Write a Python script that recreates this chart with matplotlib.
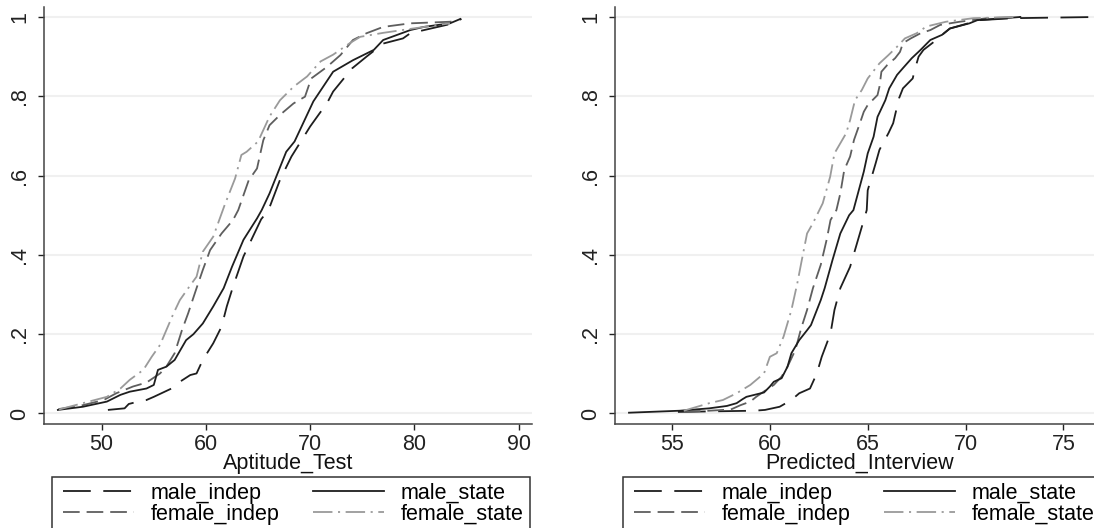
import matplotlib
matplotlib.use("Agg")
import matplotlib.pyplot as plt
from matplotlib.patches import Rectangle

plt.rcParams['font.family'] = ['Liberation Sans', 'DejaVu Sans']
plt.rcParams['lines.scale_dashes'] = False

# read off the reference: empirical CDFs by group
# left panel: Aptitude_Test
apt_male_indep_x = [50.6, 52.2, 52.6, 53.5, 54.3, 55.0, 56.7, 57.5, 58.5, 59.1, 59.7, 60.7, 61.5, 62.0,
                    62.6, 63.6, 64.5, 65.3, 66.0, 67.1, 68.2, 70.0, 70.9, 71.6, 72.2, 74.0, 75.4, 77.0,
                    78.9, 79.6, 83.4, 84.5]
apt_male_indep_p = [0.009, 0.013, 0.024, 0.03, 0.034, 0.042, 0.063, 0.08, 0.097, 0.101, 0.135, 0.177,
                    0.219, 0.27, 0.32, 0.396, 0.446, 0.49, 0.513, 0.589, 0.648, 0.724, 0.757, 0.782,
                    0.812, 0.87, 0.9, 0.933, 0.946, 0.959, 0.982, 0.995]

apt_male_state_x = [45.8, 48.2, 50.5, 51.8, 52.7, 54.3, 55.0, 55.4, 56.2, 57.0, 58.1, 58.8, 59.7, 60.7,
                    61.7, 62.5, 63.6, 64.9, 65.35, 66.1, 67.7, 68.5, 70.3, 72.2, 74.1, 76.1, 77.0, 79.6,
                    80.9, 83.4, 84.4]
apt_male_state_p = [0.009, 0.017, 0.03, 0.047, 0.055, 0.063, 0.072, 0.11, 0.118, 0.135, 0.185, 0.20,
                    0.227, 0.27, 0.316, 0.37, 0.438, 0.492, 0.513, 0.555, 0.66, 0.686, 0.787, 0.862,
                    0.891, 0.917, 0.942, 0.967, 0.975, 0.984, 0.995]

apt_female_indep_x = [45.85, 48.2, 50.2, 51.4, 53.0, 54.3, 55.6, 56.2, 57.0, 57.7, 58.3, 59.1, 59.7,
                      60.4, 61.5, 62.6, 63.1, 64.1, 64.9, 65.5, 66.1, 67.1, 68.4, 69.5, 70.1, 71.6, 72.9,
                      74.1, 75.4, 77.0, 79.6, 83.4, 84.0]
apt_female_indep_p = [0.011, 0.021, 0.034, 0.051, 0.068, 0.078, 0.101, 0.118, 0.152, 0.21, 0.253, 0.316,
                      0.362, 0.412, 0.454, 0.488, 0.513, 0.588, 0.618, 0.689, 0.727, 0.753, 0.782, 0.799,
                      0.845, 0.874, 0.904, 0.942, 0.959, 0.975, 0.984, 0.988, 0.99]

apt_female_state_x = [45.9, 47.9, 50.5, 51.8, 52.7, 54.0, 54.8, 55.6, 56.2, 56.9, 57.5, 58.3, 59.1,
                      59.7, 60.7, 61.8, 62.8, 63.4, 63.9, 65.0, 66.1, 67.1, 68.4, 69.7, 71.0, 72.2, 73.8,
                      74.8, 77.0, 79.6, 83.4]
apt_female_state_p = [0.01, 0.024, 0.042, 0.063, 0.085, 0.11, 0.143, 0.173, 0.21, 0.253, 0.286, 0.316,
                      0.345, 0.408, 0.446, 0.526, 0.593, 0.652, 0.66, 0.686, 0.749, 0.79, 0.824, 0.85,
                      0.888, 0.905, 0.934, 0.95, 0.96, 0.97, 0.984]

# right panel: Predicted_Interview
int_male_indep_x = [55.3, 59.2, 59.75, 60.5, 61.1, 61.5, 62.05, 62.4, 62.65, 63.1, 63.3, 63.6, 64.1,
                    64.95, 65.0, 65.4, 65.6, 66.06, 66.3, 66.5, 66.6, 66.8, 67.3, 67.4, 67.6, 67.85,
                    68.4, 68.9, 69.2, 70.7, 72.45, 76.7]
int_male_indep_p = [0.004, 0.007, 0.009, 0.017, 0.034, 0.051, 0.063, 0.101, 0.143, 0.202, 0.261, 0.316,
                    0.37, 0.513, 0.563, 0.63, 0.665, 0.707, 0.732, 0.774, 0.795, 0.82, 0.845, 0.866,
                    0.9, 0.917, 0.938, 0.959, 0.971, 0.992, 0.997, 1.0]

int_male_state_x = [52.8, 55.4, 56.9, 57.8, 58.3, 58.6, 58.8, 59.7, 60.0, 60.2, 60.6, 60.9, 61.1, 61.5,
                    61.9, 62.1, 62.6, 62.8, 63.2, 63.6, 64.05, 64.27, 64.5, 64.8, 65.0, 65.3, 65.5,
                    65.9, 66.1, 66.5, 66.8, 67.25, 67.7, 68.2, 68.8, 69.2, 70.2, 70.6, 72.8]
int_male_state_p = [0.002, 0.007, 0.013, 0.019, 0.026, 0.036, 0.042, 0.053, 0.068, 0.08, 0.089, 0.118,
                    0.152, 0.185, 0.21, 0.223, 0.286, 0.316, 0.387, 0.454, 0.50, 0.513, 0.555, 0.61,
                    0.656, 0.698, 0.748, 0.79, 0.82, 0.854, 0.871, 0.896, 0.917, 0.942, 0.955, 0.971,
                    0.984, 0.992, 1.0]

int_female_indep_x = [55.6, 56.9, 58.0, 58.5, 59.0, 59.3, 59.8, 60.2, 60.6, 60.9, 61.3, 61.6, 61.9,
                      62.2, 62.6, 62.9, 63.1, 63.4, 63.6, 63.8, 64.1, 64.3, 64.6, 64.8, 65.0, 65.5, 65.6,
                      65.7, 66.0, 66.4, 66.65, 66.8, 67.2, 67.7, 68.2, 68.7, 69.7, 71.1, 72.8]
int_female_indep_p = [0.004, 0.007, 0.01, 0.021, 0.03, 0.042, 0.059, 0.072, 0.093, 0.118, 0.16, 0.215,
                      0.261, 0.316, 0.375, 0.438, 0.488, 0.513, 0.555, 0.614, 0.648, 0.69, 0.732, 0.761,
                      0.778, 0.803, 0.824, 0.862, 0.879, 0.896, 0.912, 0.934, 0.946, 0.959, 0.967, 0.98,
                      0.988, 0.997, 1.0]

int_female_state_x = [55.6, 56.9, 57.6, 58.3, 59.0, 59.7, 60.0, 60.35, 60.7, 61.1, 61.4, 61.6, 61.9,
                      62.2, 62.7, 63.08, 63.3, 63.7, 63.9, 64.1, 64.35, 64.7, 65.0, 65.6, 66.06, 66.5,
                      66.9, 67.5, 68.0, 69.0, 70.4, 72.45]
int_female_state_p = [0.007, 0.026, 0.034, 0.051, 0.072, 0.101, 0.143, 0.152, 0.194, 0.261, 0.328, 0.379,
                      0.454, 0.48, 0.53, 0.597, 0.656, 0.69, 0.707, 0.74, 0.79, 0.816, 0.845, 0.883,
                      0.904, 0.925, 0.946, 0.959, 0.976, 0.988, 0.997, 1.0]

y_ticks = [0, 0.2, 0.4, 0.6, 0.8, 1.0]
y_ticklabels = ['0', '.2', '.4', '.6', '.8', '1']
apt_ticks = [50, 60, 70, 80, 90]
int_ticks = [55, 60, 65, 70, 75]

# group name -> (colour, linestyle)
styles = {
    'male_indep': ('#1e1e1e', (0, (20, 9))),
    'female_indep': ('#5e5e5e', (0, (12, 5))),
    'male_state': ('#1e1e1e', '-'),
    'female_state': ('#9a9a9a', (0, (14, 4, 1.5, 4))),
}

FS = 15.5
W, H = 1094, 528

fig = plt.figure(figsize=(W / 100, H / 100), dpi=100)
ax1 = fig.add_axes([44.3 / W, 104 / H, 488 / W, 417 / H])
ax2 = fig.add_axes([615.3 / W, 104 / H, 488 / W, 417 / H])

panels = [
    (ax1, 'Aptitude_Test', (44.5, 91.3), apt_ticks,
     {'male_indep': (apt_male_indep_x, apt_male_indep_p),
      'female_indep': (apt_female_indep_x, apt_female_indep_p),
      'male_state': (apt_male_state_x, apt_male_state_p),
      'female_state': (apt_female_state_x, apt_female_state_p)}),
    (ax2, 'Predicted_Interview', (52.1, 77.04), int_ticks,
     {'male_indep': (int_male_indep_x, int_male_indep_p),
      'female_indep': (int_female_indep_x, int_female_indep_p),
      'male_state': (int_male_state_x, int_male_state_p),
      'female_state': (int_female_state_x, int_female_state_p)}),
]

for ax, xlabel, xlim, xticks, series in panels:
    for yt in y_ticks:
        ax.axhline(yt, color='#f0f0f0', lw=1.5, zorder=0)
    for name in ['male_indep', 'female_indep', 'male_state', 'female_state']:
        color, ls = styles[name]
        x, p = series[name]
        ax.plot(x, p, color=color, linestyle=ls, lw=1.3, label=name)

    ax.set_xlim(*xlim)
    ax.set_ylim(-0.0265, 1.0252)
    ax.set_xticks(xticks)
    ax.set_xticklabels([str(t) for t in xticks])
    ax.set_yticks(y_ticks)
    ax.set_yticklabels(y_ticklabels, rotation=90, va='center')
    ax.tick_params(axis='both', labelsize=FS, colors='#222222', length=4, width=1)
    ax.tick_params(axis='x', pad=3)
    ax.tick_params(axis='y', pad=6)
    for s in ['top', 'right']:
        ax.spines[s].set_visible(False)
    for s in ['left', 'bottom']:
        ax.spines[s].set_color('#444444')
        ax.spines[s].set_linewidth(1.1)
    ax.set_xlabel(xlabel, fontsize=FS, labelpad=-1.5, color='#111111')

    leg = ax.legend(ncol=2, loc='upper left', bbox_to_anchor=(0.0383, -0.1415, 0.9435, 0),
                    mode='expand', frameon=False, borderpad=0, borderaxespad=0,
                    fontsize=FS, handlelength=3.3, handletextpad=0.78, labelspacing=0.0)
    ax.add_patch(Rectangle((0.015, -0.30), 0.98, 0.173, transform=ax.transAxes,
                           fill=False, edgecolor='#333333', lw=1.1, clip_on=False))

fig.savefig('out.png', dpi=100)
